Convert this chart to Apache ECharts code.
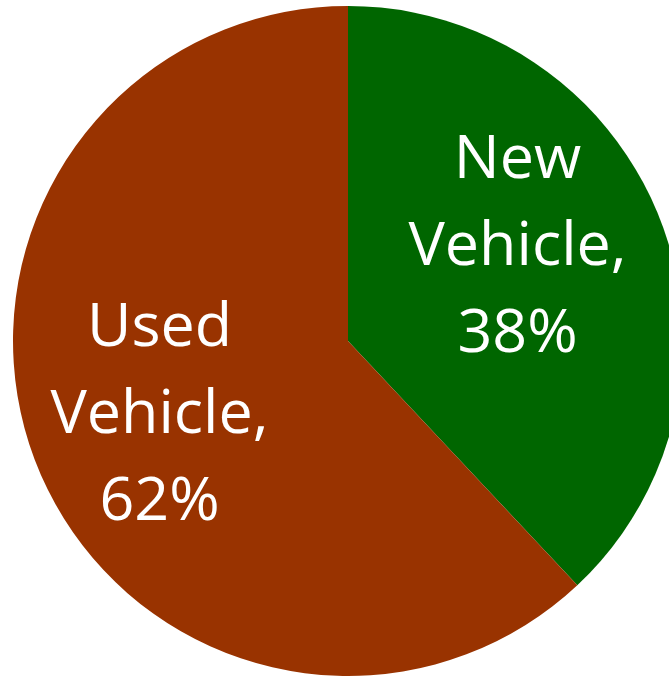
<!DOCTYPE html>
<html>
<head>
<meta charset="utf-8">
<script src="https://cdn.jsdelivr.net/npm/echarts@6/dist/echarts.min.js"></script>
<style>
  html, body { margin: 0; padding: 0; background: #fff; }
  #chart { width: 669px; height: 678px; }
</style>
</head>
<body>
<div id="chart"></div>
<script>
// Vehicle purchase share
const categories = ['New Vehicle', 'Used Vehicle'];
const shares = [38, 62];
const colors = ['#006600', '#993300'];
// nudges for the in-slice labels, pixels
const labelOffsets = [[11, -31], [-30, 12]];

const chart = echarts.init(document.getElementById('chart'));
chart.setOption({
  animation: false,
  series: [{
    type: 'pie',
    center: [348, 341],
    radius: 335,
    startAngle: 90,
    clockwise: true,
    silent: true,
    itemStyle: { borderWidth: 0 },
    label: {
      show: true,
      position: 'inside',
      color: '#ffffff',
      fontFamily: 'Open Sans',
      fontSize: 61,
      lineHeight: 87,
      align: 'center',
      formatter: p => p.name.replace(' ', '\n') + ',\n' + p.value + '%'
    },
    labelLine: { show: false },
    data: categories.map((name, i) => ({
      name: name,
      value: shares[i],
      itemStyle: { color: colors[i] },
      label: { offset: labelOffsets[i] }
    }))
  }]
});
</script>
</body>
</html>
